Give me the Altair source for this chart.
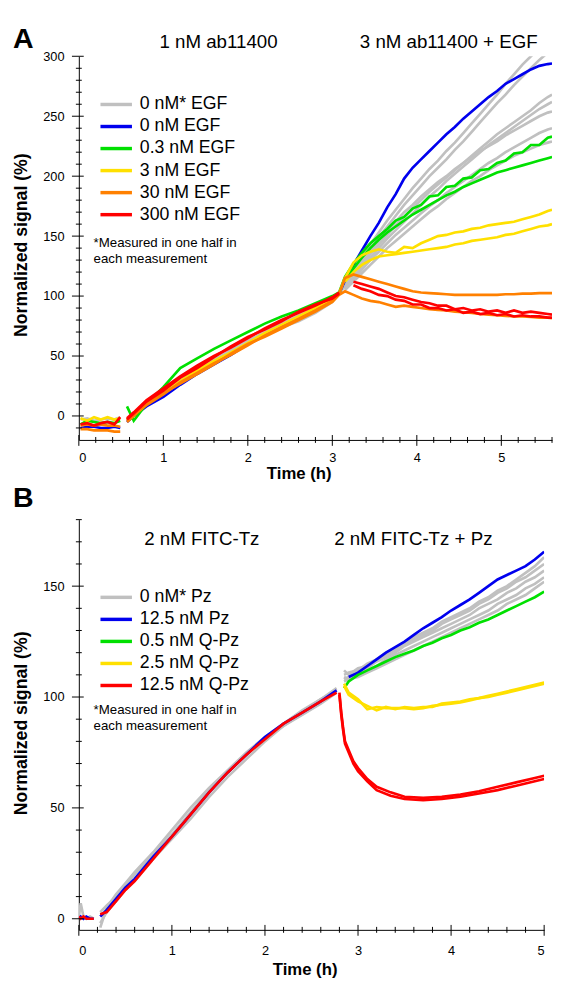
import altair as alt
import pandas as pd

FONT = "Liberation Sans"

# ---------------- Panel A data ----------------
TOP_CATS = ["0 nM* EGF", "0 nM EGF", "0.3 nM EGF", "3 nM EGF", "30 nM EGF", "300 nM EGF"]
TOP_COLORS = ["#c0c0c0", "#0000ee", "#00e000", "#ffe000", "#ff8000", "#ff0000"]

TA_FLAT = [0.02, 0.1, 0.18, 0.26, 0.34, 0.42, 0.49]
A_FLAT_GRAY = [-3, -2, -4, -3, -2, -3, -1]
A_FLAT_BLUE = [-10, -9, -9, -10, -10, -9, -10]
A_FLAT_GREEN = [-7, -4, -5, -6, -5, -6, -4]
A_FLAT_YELLOW = [-2, -4, -1, -3, -1, -3, -2]
A_FLAT_ORANGE1 = [-8, -7, -8, -7, -8, -8, -9]
A_FLAT_ORANGE2 = [-11, -11, -12, -12, -12, -13, -13]
A_FLAT_RED = [-7, -6, -8, -6, -5, -7, -1]

TA_RISE = [0.57, 0.65, 0.8, 1.0, 1.2, 1.4, 1.6, 1.8, 2.0, 2.2, 2.4, 2.6, 2.8, 3.0, 3.08]
A_RISE_GRAY1 = [-4, 1, 9, 17, 27, 36, 45, 52, 60, 68, 74, 79, 86, 95, 102]
A_RISE_GRAY2 = [-3, 2, 11, 20, 30, 39, 47, 55, 63, 70, 77, 84, 90, 97, 103]
A_RISE_BLUE = [-5, 0, 8, 16, 26, 35, 43, 51, 60, 68, 75, 82, 89, 96, 102]
A_RISE_GREEN = [8, -4, 10, 24, 40, 48, 56, 63, 70, 77, 83, 88, 94, 100, 103]
A_RISE_YELLOW = [-3, 2, 10, 19, 29, 38, 46, 53, 61, 69, 76, 83, 90, 97, 102]
A_RISE_ORANGE1 = [-4, 1, 9, 18, 28, 36, 44, 51, 59, 67, 74, 81, 88, 96, 102]
A_RISE_ORANGE2 = [-5, 0, 10, 19, 27, 35, 43, 52, 60, 66, 73, 80, 87, 95, 101]
A_RISE_RED1 = [-2, 3, 13, 23, 33, 42, 50, 57, 65, 73, 80, 86, 92, 99, 103]
A_RISE_RED2 = [-3, 2, 12, 21, 32, 40, 49, 58, 66, 72, 79, 87, 93, 98, 102]

TA_POST = [3.15, 3.25, 3.35, 3.45, 3.55, 3.65, 3.75, 3.85, 3.95, 4.05, 4.15, 4.25, 4.35,
           4.45, 4.55, 4.65, 4.75, 4.85, 4.95, 5.05, 5.15, 5.25, 5.35, 5.45, 5.55, 5.6]
A_POST_BLUE = [113, 126, 138, 150, 161, 174, 185, 198, 207, 214, 221, 228, 235, 241, 248, 254,
               260, 266, 271, 277, 281, 285, 289, 292, 293.5, 294]
A_POST_GRAY1 = [110, 121, 132, 143, 153, 163, 172, 181, 190, 198, 206, 213, 221, 228, 236, 244,
                252, 260, 268, 277, 285, 293, 300, 307, 314, 318]
A_POST_GRAY2 = [109, 119, 129, 139, 149, 158, 167, 176, 184, 192, 200, 207, 214, 222, 229, 237,
                245, 253, 261, 268, 276, 283, 290, 297, 303, 306]
A_POST_GRAY3 = [108, 117, 126, 135, 143, 151, 159, 166, 173, 180, 187, 193, 199, 205, 211, 217,
                223, 229, 235, 240, 245, 250, 255, 261, 266, 268]
A_POST_GRAY4 = [107, 116, 124, 132, 140, 148, 155, 162, 169, 176, 183, 189, 196, 202, 208, 214,
                220, 226, 231, 236, 241, 246, 251, 256, 260, 262]
A_POST_GRAY5 = [106, 114, 122, 130, 137, 144, 151, 157, 163, 169, 175, 180, 186, 191, 196, 201,
                206, 211, 215, 220, 224, 228, 232, 236, 239, 240]
A_POST_GRAY6 = [105, 112, 119, 126, 133, 140, 146, 152, 158, 164, 170, 175, 181, 186, 191, 196,
                200, 205, 209, 213, 217, 220, 223, 226, 228, 229]
A_POST_GRAY7 = [108, 118, 128, 137, 146, 154, 162, 170, 176, 183, 189, 195, 200, 206, 211, 216,
                221, 225, 229, 234, 238, 242, 246, 250, 253, 254]
A_POST_GREEN1 = [116, 127, 136, 144, 150, 156, 163, 166, 173, 176, 183, 184, 191, 192, 198, 199,
                 205, 206, 211, 213, 219, 220, 226, 226, 232, 233]
A_POST_GREEN2 = [113, 123, 132, 140, 147, 153, 158, 163, 168, 172, 176, 180, 184, 187, 191, 194,
                 197, 200, 203, 205, 207, 209, 211, 213, 215, 216]
A_POST_YELLOW1 = [115, 128, 134, 137, 139, 137, 136, 141, 140, 144, 147, 150, 151, 153, 154, 156,
                  157, 159, 160, 161, 162, 164, 166, 168, 171, 172]
A_POST_YELLOW2 = [112, 120, 126, 130, 133, 134, 135, 136, 137, 138, 139, 140, 141, 143, 144, 146,
                  147, 148, 149, 151, 152, 154, 156, 158, 159, 160]
A_POST_ORANGE1 = [115, 118, 116, 114, 112, 110, 108, 106, 104, 103, 102.5, 102, 101.5, 101, 101,
                  101, 101, 101, 101, 101.5, 101.5, 102, 102, 102.5, 102.5, 102.5]
A_POST_ORANGE2 = [104, 101, 98, 96, 95, 93, 91, 92, 91, 90, 89, 88.5, 88, 87, 86.5, 86, 85, 84.5,
                  84, 83.5, 83, 83, 82.5, 82, 82, 81.5]
A_POST_RED1 = [112, 110, 108, 106, 103, 100, 99, 97, 95, 94, 92, 92, 89, 90, 88, 89, 87, 88, 86,
               88, 86, 87, 86, 85, 84.5]
A_POST_RED2 = [109, 106, 104, 101, 100, 97, 96, 93, 93, 90, 90, 88, 89, 86, 87, 85, 86, 84, 85,
               83, 84, 83, 83, 82, 82]

# ---------------- Panel B data ----------------
BOT_CATS = ["0 nM* Pz", "12.5 nM Pz", "0.5 nM Q-Pz", "2.5 nM Q-Pz", "12.5 nM Q-Pz"]
BOT_COLORS = ["#c0c0c0", "#0000ee", "#00e000", "#ffe000", "#ff0000"]

TB_FLAT = [0.0, 0.02, 0.05, 0.08, 0.12, 0.16]
B_FLAT_GRAY = [1, 7, 1, 0, 1, 0]
B_FLAT_RED = [1, 0, 1, 0, 0, 0]
B_FLAT_BLUE = [0, 1, 0, 1, 0, 0]

TB_RISE = [0.23, 0.3, 0.4, 0.5, 0.6, 0.8, 1.0, 1.2, 1.4, 1.6, 1.8, 2.0, 2.2, 2.4, 2.6, 2.77]
B_RISE_GRAY1 = [-4, 5, 11, 16, 21, 30, 40, 50, 59, 67, 75, 82, 88, 94, 99, 104]
B_RISE_GRAY2 = [-2, 3, 8, 13, 17, 27, 36, 45, 55, 64, 72, 80, 87, 92, 97, 102]
B_RISE_GRAY3 = [3, 6, 10, 15, 20, 29, 38, 48, 58, 66, 74, 81, 87, 93, 99, 103]
B_RISE_BLUE = [1, 4, 9, 14, 18, 28, 37, 47, 57, 66, 74, 82, 88, 93, 98, 103]
B_RISE_RED = [2, 3, 8, 13, 17, 27, 37, 47, 57, 66, 74, 81, 88, 93, 98, 102]

TB_POST = [2.85, 2.9, 3.0, 3.1, 3.2, 3.3, 3.4, 3.5, 3.6, 3.7, 3.8, 3.9, 4.0, 4.1, 4.2, 4.3, 4.4,
           4.5, 4.6, 4.7, 4.8, 4.9, 5.0]
B_POST_BLUE = [109, 111, 114, 117, 120, 122.5, 125, 128, 131, 133.5, 136, 139, 141.5, 144, 147,
               150, 153, 155, 157, 159, 162, 165.5]
B_POST_GRAY1 = [110, 111, 112, 115, 117, 120, 122, 124, 127, 129, 131, 134, 136, 138, 140, 143,
                145, 148, 150, 153, 156, 159, 163]
B_POST_GRAY2 = [112, 110, 113, 114, 117, 119, 121, 124, 126, 128, 130, 133, 135, 137, 139, 142,
                144, 147, 149, 152, 154, 157, 160]
B_POST_GRAY3 = [108, 109, 111, 113, 116, 118, 120, 123, 125, 127, 129, 131, 133, 135, 137, 140,
                142, 144, 147, 149, 152, 154, 157]
B_POST_GRAY4 = [109, 108, 110, 112, 114, 117, 119, 121, 123, 125, 127, 129, 131, 133, 135, 137,
                139, 142, 144, 146, 149, 151, 154]
B_POST_GRAY5 = [107, 108, 109, 111, 113, 115, 117, 119, 121, 123, 125, 127, 129, 131, 133, 135,
                137, 139, 142, 144, 146, 149, 152]
B_POST_GREEN = [104, 107, 110, 112, 114, 116, 118, 119.5, 121, 123, 124.5, 126.5, 128, 130, 131.5,
                133.5, 135, 137, 139, 141, 143, 145, 147.5]
B_POST_YELLOW1 = [106, 102, 99, 94.5, 95.5, 95, 95, 95, 94.5, 95, 96, 96.5, 97, 97.5, 98.5, 99.5,
                  100, 101, 102, 103, 104, 105, 106]
B_POST_YELLOW2 = [105, 101, 98, 96, 94, 95.5, 94.5, 95.5, 95, 95.5, 95.5, 97, 97.5, 98, 99, 99.5,
                  100.5, 101.5, 102.5, 103.5, 104.5, 105.5, 106.5]
TB_RED = [2.8, 2.82, 2.84, 2.86, 2.9, 2.95, 3.0, 3.1, 3.2, 3.35, 3.5, 3.7, 3.9, 4.1, 4.3, 4.5,
          4.7, 4.9, 5.0]
B_POST_RED1 = [102, 93, 86, 80, 76, 71, 68, 63, 59.5, 57, 55, 54.5, 55, 56, 57.5, 59.5, 61.5,
               63.5, 64.5]
B_POST_RED2 = [101, 92, 85, 79, 75, 70, 66.5, 62, 58, 55.5, 54, 53.5, 54, 55, 56.5, 58, 60, 62, 63]


def build(segments):
    rows = []
    for cid, (cat, times, vals) in enumerate(segments):
        for t, v in zip(times, vals):
            rows.append({"t": t, "v": v, "cat": cat, "cid": cid})
    return pd.DataFrame(rows)


g, b, gr, y, o, r = TOP_CATS
top_df = build([
    (g, TA_FLAT, A_FLAT_GRAY),
    (g, TA_RISE + TA_POST, A_RISE_GRAY1 + A_POST_GRAY1),
    (g, TA_RISE + TA_POST, A_RISE_GRAY2 + A_POST_GRAY3),
    (g, TA_POST, A_POST_GRAY2),
    (g, TA_POST, A_POST_GRAY4),
    (g, TA_POST, A_POST_GRAY5),
    (g, TA_POST, A_POST_GRAY6),
    (g, TA_POST, A_POST_GRAY7),
    (b, TA_FLAT, A_FLAT_BLUE),
    (b, TA_RISE + TA_POST, A_RISE_BLUE + A_POST_BLUE),
    (gr, TA_FLAT, A_FLAT_GREEN),
    (gr, TA_RISE + TA_POST, A_RISE_GREEN + A_POST_GREEN1),
    (gr, TA_POST, A_POST_GREEN2),
    (y, TA_FLAT, A_FLAT_YELLOW),
    (y, TA_RISE + TA_POST, A_RISE_YELLOW + A_POST_YELLOW1),
    (y, TA_POST, A_POST_YELLOW2),
    (o, TA_FLAT, A_FLAT_ORANGE1),
    (o, TA_FLAT, A_FLAT_ORANGE2),
    (o, TA_RISE + TA_POST, A_RISE_ORANGE1 + A_POST_ORANGE1),
    (o, TA_RISE + TA_POST, A_RISE_ORANGE2 + A_POST_ORANGE2),
    (r, TA_FLAT, A_FLAT_RED),
    (r, TA_RISE, A_RISE_RED1),
    (r, TA_RISE, A_RISE_RED2),
    (r, TA_POST[1:], A_POST_RED1),
    (r, TA_POST[1:], A_POST_RED2),
])

bg, bb, bgr, by, br = BOT_CATS
bot_df = build([
    (bg, TB_FLAT, B_FLAT_GRAY),
    (bg, TB_RISE, B_RISE_GRAY1),
    (bg, TB_RISE, B_RISE_GRAY2),
    (bg, TB_RISE, B_RISE_GRAY3),
    (bg, TB_POST, B_POST_GRAY1),
    (bg, TB_POST, B_POST_GRAY2),
    (bg, TB_POST, B_POST_GRAY3),
    (bg, TB_POST, B_POST_GRAY4),
    (bg, TB_POST, B_POST_GRAY5),
    (bb, TB_FLAT, B_FLAT_BLUE),
    (bb, TB_RISE, B_RISE_BLUE),
    (bb, TB_POST[1:], B_POST_BLUE),
    (bgr, TB_POST, B_POST_GREEN),
    (by, TB_POST, B_POST_YELLOW1),
    (by, TB_POST, B_POST_YELLOW2),
    (br, TB_FLAT, B_FLAT_RED),
    (br, TB_RISE, B_RISE_RED),
    (br, TB_RED, B_POST_RED1),
    (br, TB_RED, B_POST_RED2),
])

DUMMY = pd.DataFrame({"d": [0]})


def panel(df, cats, colors, xdom, ydom, W, H, xmajor, ymajor, yminor, xminor,
          letter, sub1, sub2, sub_x1, sub_x2, sub_y, letter_y, leg_y0, foot_y,
          ytitle_y, xlab_pad, xtitle_x, xtitle_y):
    xs = alt.Scale(domain=xdom, nice=False, zero=False)
    ys = alt.Scale(domain=ydom, nice=False, zero=False)
    xa = alt.Axis(values=xmajor, format="d", ticks=False, tickSize=0, domain=True,
                  domainColor="#000", domainWidth=1, grid=False, title=None,
                  labelFont=FONT, labelFontSize=13, labelColor="#000",
                  labelPadding=xlab_pad)
    ya = alt.Axis(values=ymajor, format="d", ticks=False, tickSize=0, domain=True,
                  domainColor="#000", domainWidth=1, grid=False, title=None,
                  labelFont=FONT, labelFontSize=13, labelColor="#000", labelPadding=15)
    X = alt.X("t:Q", scale=xs, axis=xa)
    Y = alt.Y("v:Q", scale=ys, axis=ya)
    C = alt.Color("cat:N", scale=alt.Scale(domain=cats, range=colors), legend=None)

    layers = []
    gray = alt.Chart(df).transform_filter(alt.datum.cat == cats[0]).mark_line(
        strokeWidth=2.7, clip=True).encode(x=X, y=Y, color=C, detail="cid:N")
    rest = alt.Chart(df).transform_filter(alt.datum.cat != cats[0]).mark_line(
        strokeWidth=2.7, clip=True).encode(x=X, y=Y, color=C, detail="cid:N")
    layers += [gray, rest]

    # axis ticks (crossing the axis line)
    ymaj_df = pd.DataFrame({"v": ymajor})
    ymin_df = pd.DataFrame({"v": yminor})
    xmaj_df = pd.DataFrame({"t": xmajor})
    xmin_df = pd.DataFrame({"t": xminor})
    layers.append(alt.Chart(ymaj_df).mark_rule(color="#000", strokeWidth=1).encode(
        y=Y, x=alt.value(-7), x2=alt.value(5)))
    layers.append(alt.Chart(ymin_df).mark_rule(color="#000", strokeWidth=1).encode(
        y=Y, x=alt.value(-3), x2=alt.value(3)))
    layers.append(alt.Chart(xmaj_df).mark_rule(color="#000", strokeWidth=1).encode(
        x=X, y=alt.value(H - 5), y2=alt.value(H + 6)))
    layers.append(alt.Chart(xmin_df).mark_rule(color="#000", strokeWidth=1).encode(
        x=X, y=alt.value(H - 3), y2=alt.value(H + 3)))

    def txt(s, x, yv, size, weight="normal", align="center", baseline="alphabetic", angle=0):
        return alt.Chart(DUMMY).mark_text(
            text=s, font=FONT, fontSize=size, fontWeight=weight, align=align,
            baseline=baseline, angle=angle, color="#000").encode(
            x=alt.value(x), y=alt.value(yv))

    layers.append(txt(letter, -67, letter_y, 29, "bold", "left"))
    layers.append(txt(sub1, sub_x1, sub_y, 19))
    layers.append(txt(sub2, sub_x2, sub_y, 19))
    layers.append(txt("Normalized signal (%)", -58, ytitle_y, 18, "bold", "center", "middle", 270))
    layers.append(txt("Time (h)", xtitle_x, xtitle_y, 17, "bold"))

    for i, (cat, col) in enumerate(zip(cats, colors)):
        ly = leg_y0 + i * 22.4
        layers.append(alt.Chart(DUMMY).mark_rule(color=col, strokeWidth=3.5).encode(
            x=alt.value(22), x2=alt.value(54), y=alt.value(ly)))
        layers.append(txt(cat, 62, ly, 18, "normal", "left", "middle"))
    layers.append(txt("*Measured in one half in", 15, foot_y, 13.5, "normal", "left", "middle"))
    layers.append(txt("each measurement", 15, foot_y + 16, 13.5, "normal", "left", "middle"))

    return alt.layer(*layers).properties(width=W, height=H)


top = panel(
    top_df, TOP_CATS, TOP_COLORS, [0, 5.6], [-20, 300], 481, 390,
    [0, 1, 2, 3, 4, 5], [0, 50, 100, 150, 200, 250, 300],
    [v for v in range(-10, 300, 10) if v % 50 != 0],
    [round(0.2 * k, 1) for k in range(1, 29) if k % 5 != 0],
    "A", "1 nM ab11400", "3 nM ab11400 + EGF", 142, 376, -8, -8,
    49, 190, 192, 12, 224, 430)

bottom = panel(
    bot_df, BOT_CATS, BOT_COLORS, [0, 5], [-5, 180], 473, 417,
    [0, 1, 2, 3, 4, 5], [0, 50, 100, 150],
    [v for v in range(10, 181, 10) if v % 50 != 0],
    [round(0.2 * k, 1) for k in range(1, 26) if k % 5 != 0],
    "B", "2 nM FITC-Tz", "2 nM FITC-Tz + Pz", 125, 340, 26, -13,
    79, 194, 207, 15, 230, 463)

chart = alt.vconcat(top, bottom, spacing=81, bounds="flush").resolve_scale(
    color="independent"
).properties(
    padding={"left": 5, "top": 10, "right": 0, "bottom": 0},
    background="white",
).configure_view(stroke=None)

chart.save("out.html", embed_options={"renderer": "svg", "actions": False})
